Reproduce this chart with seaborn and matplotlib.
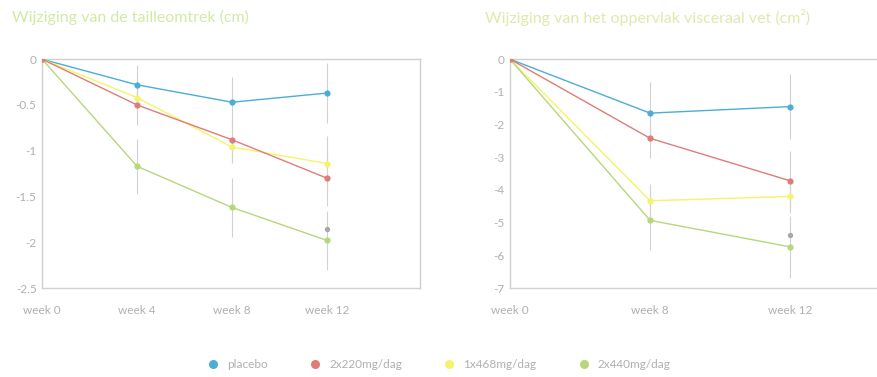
import matplotlib
matplotlib.use("Agg")
import matplotlib.pyplot as plt
from matplotlib.lines import Line2D
import seaborn as sns
import pandas as pd

# --- data ---
groups = ["placebo", "2x220mg/dag", "1x468mg/dag", "2x440mg/dag"]
colors = ["#4aaed6", "#e07c78", "#f4f46a", "#b8d67c"]

waist_weeks = ["week 0", "week 4", "week 8", "week 12"]
waist_placebo = [0, -0.28, -0.47, -0.37]
waist_220 = [0, -0.50, -0.88, -1.30]
waist_468 = [0, -0.42, -0.96, -1.14]
waist_440 = [0, -1.17, -1.62, -1.98]
waist_err_placebo = [0, 0.22, 0.28, 0.33]
waist_err_220 = [0, 0.22, 0.25, 0.30]
waist_err_468 = [0, 0.15, 0.15, 0.30]
waist_err_440 = [0, 0.30, 0.32, 0.32]
waist_sig = -1.86

fat_weeks = ["week 0", "week 8", "week 12"]
fat_placebo = [0, -1.65, -1.45]
fat_220 = [0, -2.42, -3.72]
fat_468 = [0, -4.33, -4.20]
fat_440 = [0, -4.93, -5.74]
fat_err_placebo = [0, 0.95, 1.0]
fat_err_220 = [0, 0.6, 0.9]
fat_err_468 = [0, 0.5, 0.5]
fat_err_440 = [0, 0.9, 0.95]
fat_sig = -5.39

titles = ["Wijziging van de tailleomtrek (cm)",
          "Wijziging van het oppervlak visceraal vet (cm²)"]

sns.set_style("white")
plt.rcParams["font.family"] = ["Lato", "DejaVu Sans"]
plt.rcParams["axes.unicode_minus"] = False

palette = dict(zip(groups, colors))


def long_frame(weeks, series):
    rows = []
    for g, vals in zip(groups, series):
        for i, v in enumerate(vals):
            rows.append({"pos": i, "value": v, "group": g})
    return pd.DataFrame(rows)


def draw(ax, weeks, series, errs, sig, ylim, yticks, xmax):
    df = long_frame(weeks, series)
    pos = list(range(len(weeks)))
    for g, vals, e in zip(groups, series, errs):
        ax.errorbar(pos[1:], vals[1:], yerr=e[1:], fmt="none",
                    ecolor="#d2d2d2", elinewidth=0.8, capsize=0, zorder=1)
    sns.lineplot(data=df, x="pos", y="value", hue="group",
                 hue_order=["placebo", "1x468mg/dag", "2x440mg/dag", "2x220mg/dag"],
                 palette=palette, marker="o", markersize=4.5, markeredgewidth=0,
                 linewidth=1.0, legend=False, ax=ax, zorder=3)
    ax.scatter([pos[-1]], [sig], s=8, color="#a8a8a8", zorder=4)
    ax.set_xlim(0, xmax)
    ax.set_ylim(*ylim)
    ax.set_yticks(yticks)
    ax.set_yticklabels([f"{t:g}" for t in yticks])
    ax.set_xticks(pos)
    ax.set_xticklabels(weeks)
    ax.set_xlabel("")
    ax.set_ylabel("")
    ax.tick_params(colors="#b0b0b0", labelsize=8.5, length=0, pad=12)
    ax.tick_params(axis="y", length=3, direction="in", pad=4)
    for s in ax.spines.values():
        s.set_color("#d0d0d0")
        s.set_linewidth(1)


fig = plt.figure(figsize=(8.77, 3.77), dpi=100)
ax1 = fig.add_axes([0.048, 0.236, 0.431, 0.607])
ax2 = fig.add_axes([0.5815, 0.236, 0.4185, 0.607])

draw(ax1, waist_weeks, [waist_placebo, waist_220, waist_468, waist_440],
     [waist_err_placebo, waist_err_220, waist_err_468, waist_err_440],
     waist_sig, (-2.5, 0), [0, -0.5, -1, -1.5, -2, -2.5], 3.98)
draw(ax2, fat_weeks, [fat_placebo, fat_220, fat_468, fat_440],
     [fat_err_placebo, fat_err_220, fat_err_468, fat_err_440],
     fat_sig, (-7, 0), [0, -1, -2, -3, -4, -5, -6, -7], 2.62)
ax2.spines["right"].set_visible(False)

fig.text(0.014, 0.953, titles[0], color="#d3eaa6", fontsize=11.5, va="center")
fig.text(0.553, 0.953, titles[1], color="#dfeaad", fontsize=11.5, va="center")

handles = [Line2D([], [], marker="o", linestyle="none", markersize=6.5,
                  markerfacecolor=c, markeredgewidth=0) for c in colors]
leg = fig.legend(handles, groups, loc="center", bbox_to_anchor=(0.497, 0.033),
                 ncol=4, frameon=False, fontsize=8.5, handletextpad=0.2,
                 columnspacing=3.0)
for t in leg.get_texts():
    t.set_color("#b0b0b0")

fig.savefig("out.png", dpi=100)
